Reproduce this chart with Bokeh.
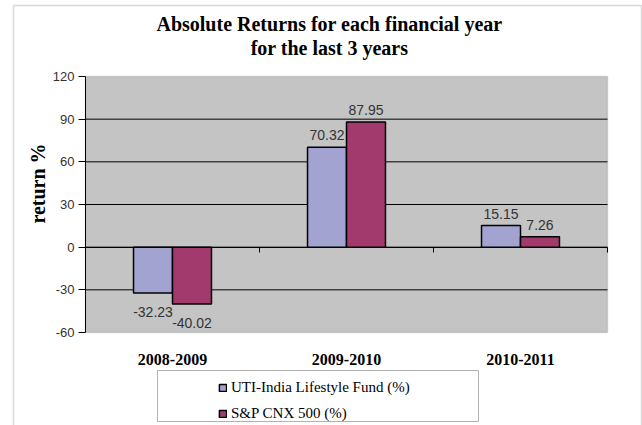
import math
from bokeh.plotting import figure
from bokeh.models import (ColumnDataSource, Range1d, LinearAxis, FixedTicker, Legend,
                          LegendItem, Label, BoxAnnotation)
from bokeh.embed import file_html
from bokeh.resources import INLINE

# ---- data ----
categories = ["2008-2009", "2009-2010", "2010-2011"]
uti_fund = [-32.23, 70.32, 15.15]
sp_cnx500 = [-40.02, 87.95, 7.26]
series_names = ["UTI-India Lifestyle Fund (%)", "S&P CNX 500 (%)"]
title_lines = ["Absolute Returns for each financial year", "for the last 3 years"]
y_label = "return %"
y_ticks = [-60, -30, 0, 30, 60, 90, 120]
y_tick_labels = ["-60", "-30", "0", "30", "60", "90", "120"]

colors = ["#A3A3D1", "#A33A6E"]
bar_w = 0.224
SERIF = "Liberation Serif"
SANS = "Liberation Sans"

# ---- layout (canvas pixels) ----
W, H = 642, 425
PL, PR, PT, PB = 85, 607, 76, 332          # plot area on canvas
ncat = len(categories)
ymin, ymax = y_ticks[0], y_ticks[-1]
xs = (PR - PL) / ncat
ys = (PB - PT) / (ymax - ymin)
x_range = Range1d(-PL / xs, ncat + (W - PR) / xs)
y_range = Range1d(ymin - (H - PB) / ys, ymax + PT / ys)

p = figure(width=W, height=H, output_backend="svg", toolbar_location=None,
           x_range=x_range, y_range=y_range,
           min_border=0, min_border_left=0, min_border_right=0,
           min_border_top=0, min_border_bottom=0)
p.xaxis.visible = False
p.yaxis.visible = False
p.xgrid.visible = False
p.ygrid.visible = False
p.background_fill_color = "white"
p.border_fill_color = "white"
p.outline_line_color = None

def sy(cy):  # canvas y -> frame screen y (from bottom)
    return H - cy

# outer chart border
p.add_layout(BoxAnnotation(left=13, right=641, bottom=-10, top=sy(5),
                           left_units="screen", right_units="screen",
                           bottom_units="screen", top_units="screen",
                           fill_color=None, line_color="#808080", line_width=1.5,
                           level="underlay"))
# plot area
p.add_layout(BoxAnnotation(left=0, right=ncat, bottom=ymin, top=ymax,
                           fill_color="#C4C4C4", fill_alpha=1,
                           line_color="#8a8a8a", line_width=1.5, level="underlay"))
# gridlines
inner = [t for t in y_ticks if ymin < t < ymax]
p.segment(x0=[0] * len(inner), x1=[ncat] * len(inner), y0=inner, y1=inner,
          line_color="black", line_width=1)

# y axis
yax = LinearAxis(ticker=FixedTicker(ticks=y_ticks), fixed_location=0, bounds=(ymin, ymax),
                 major_label_overrides={t: s for t, s in zip(y_ticks, y_tick_labels)})
yax.axis_line_color = "black"
yax.major_tick_out = 7
yax.major_tick_in = 0
yax.minor_tick_line_color = None
yax.major_label_standoff = 4
yax.major_label_text_font = SANS
yax.major_label_text_font_size = "13px"
yax.major_label_text_color = "#333333"
p.add_layout(yax, "left")

# y axis title
p.add_layout(Label(x=37, y=sy(183), x_units="screen", y_units="screen", text=y_label,
                   angle=math.pi / 2, text_align="center", text_baseline="middle",
                   text_font=SERIF, text_font_style="bold", text_font_size="20px",
                   text_color="black"))

# category labels
centers = [i + 0.5 for i in range(ncat)]
xlab = LinearAxis(ticker=FixedTicker(ticks=centers), fixed_location=ymin,
                  major_label_overrides={c: cat for c, cat in zip(centers, categories)})
xlab.axis_line_color = None
xlab.major_tick_line_color = None
xlab.minor_tick_line_color = None
xlab.major_label_standoff = 15
xlab.major_label_text_font = SERIF
xlab.major_label_text_font_style = "bold"
xlab.major_label_text_font_size = "16px"
xlab.major_label_text_color = "black"
p.add_layout(xlab, "below")

# zero-line category ticks
xz = LinearAxis(ticker=FixedTicker(ticks=list(range(ncat + 1))), fixed_location=0,
                bounds=(0, ncat))
xz.axis_line_color = "black"
xz.major_tick_out = 5
xz.major_tick_in = 0
xz.minor_tick_line_color = None
xz.major_label_text_font_size = "0px"
xz.major_label_text_color = None
p.add_layout(xz, "below")

# bars + value labels
offsets = [-bar_w / 2, bar_w / 2]
renderers = []
for vals, off, col in zip([uti_fund, sp_cnx500], offsets, colors):
    src = ColumnDataSource(dict(
        x=[c + off for c in centers], top=vals,
        lab=["%.2f" % v for v in vals],
        base=["bottom" if v >= 0 else "top" for v in vals],
        yoff=[-7 if v >= 0 else 14 for v in vals]))
    r = p.vbar(x="x", top="top", bottom=0, width=bar_w, source=src,
               fill_color=col, line_color="black", line_width=1.5)
    renderers.append(r)
    p.text(x="x", y="top", text="lab", source=src, text_align="center",
           text_baseline="base", y_offset="yoff", text_font_size="14px",
           text_color="#333333", text_font={"value": SANS})

# legend box + legend
p.add_layout(BoxAnnotation(left=157, right=478, bottom=sy(421), top=sy(370),
                           left_units="screen", right_units="screen",
                           bottom_units="screen", top_units="screen",
                           fill_color="white", fill_alpha=1,
                           line_color="black", line_width=1))
legend = Legend(items=[LegendItem(label=n, renderers=[r]) for n, r in zip(series_names, renderers)],
                location=(218, sy(424)), orientation="vertical")
legend.padding = 4
legend.margin = 0
legend.spacing = 4
legend.glyph_width = 9
legend.glyph_height = 9
legend.label_height = 22
legend.label_standoff = 4
legend.label_text_font = SERIF
legend.label_text_font_size = "15px"
legend.label_text_color = "black"
legend.border_line_color = None
legend.background_fill_color = None
legend.background_fill_alpha = 0
p.add_layout(legend, "center")

# title
for ln, cy in zip(title_lines, [23, 47]):
    p.add_layout(Label(x=329, y=sy(cy), x_units="screen", y_units="screen", text=ln,
                       text_align="center", text_baseline="middle",
                       text_font=SERIF, text_font_style="bold",
                       text_font_size="20px", text_color="black"))

open("out.html", "w").write(file_html(p, INLINE))
